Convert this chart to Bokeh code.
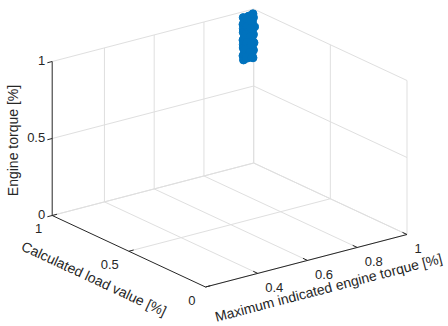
import math
from bokeh.plotting import figure
from bokeh.models import Range1d, ColumnDataSource
from bokeh.embed import file_html
from bokeh.resources import INLINE
from bokeh.core.properties import value

# ---------------- data ----------------
max_indicated_torque = [
    0.958, 0.977, 0.997,
    0.956, 0.975, 0.996,
    0.957, 0.976, 0.995,
    0.955, 0.978, 0.997,
    0.958, 0.974, 0.994,
    0.956, 0.977, 0.996,
    0.957, 0.975, 0.993,
    0.955, 0.976, 0.995,
    0.958, 0.978, 0.994,
    0.956, 0.974, 0.996,
    0.957, 0.977, 0.993,
    0.956, 0.975, 0.994,
    0.966, 0.986, 0.967, 0.985, 0.965, 0.987, 0.966, 0.986, 0.964, 0.985, 0.966, 0.986,
]
calculated_load = [
    1.000, 0.995, 1.000,
    0.990, 1.000, 0.995,
    1.000, 0.990, 1.000,
    0.995, 1.000, 0.990,
    1.000, 0.995, 1.000,
    0.990, 1.000, 0.995,
    1.000, 0.990, 1.000,
    0.995, 1.000, 0.990,
    1.000, 0.995, 1.000,
    0.990, 1.000, 0.995,
    1.000, 0.990, 1.000,
    0.995, 1.000, 0.995,
    1.000, 0.995, 0.990, 1.000, 0.995, 1.000, 0.990, 0.995, 1.000, 1.000, 0.995, 0.990,
]
engine_torque = [
    0.962, 0.966, 0.970,
    0.943, 0.946, 0.949,
    0.918, 0.921, 0.917,
    0.893, 0.895, 0.890,
    0.866, 0.870, 0.868,
    0.841, 0.845, 0.839,
    0.816, 0.818, 0.814,
    0.790, 0.793, 0.788,
    0.765, 0.767, 0.762,
    0.739, 0.742, 0.737,
    0.714, 0.716, 0.711,
    0.690, 0.692, 0.688,
    0.955, 0.930, 0.905, 0.880, 0.853, 0.828, 0.803, 0.777, 0.752, 0.727, 0.702, 0.697,
]

x_ticks = [0.4, 0.6, 0.8, 1.0]
x_tick_labels = ["0.4", "0.6", "0.8", "1"]
y_ticks = [0.0, 0.5, 1.0]
y_tick_labels = ["0", "0.5", "1"]
z_ticks = [0.0, 0.5, 1.0]
z_tick_labels = ["0", "0.5", "1"]
x_limits = [0.19, 1.0]
y_limits = [0.0, 1.0]
z_limits = [0.0, 1.0]
x_title = "Maximum indicated engine torque [%]"
y_title = "Calculated load value [%]"
z_title = "Engine torque [%]"

# ---------------- view / layout ----------------
W, H = 448, 326
ORIGIN = (205.0, 39.5)     # page position of (xmin, ymin, zmin), y measured upward
EX = (201.5, 52.5)         # page vector spanned by the x range
EY = (-153.3, 71.5)        # page vector spanned by the y range
EZ = (0.0, 154.0)          # page vector spanned by the z range
AXIS_COLOR = "#262626"
GRID_COLOR = "#dfdfdf"
FONT = "Liberation Sans"
TICK_LEN = 5.0


def proj(x, y, z):
    u = (x - x_limits[0]) / (x_limits[1] - x_limits[0])
    v = (y - y_limits[0]) / (y_limits[1] - y_limits[0])
    w = (z - z_limits[0]) / (z_limits[1] - z_limits[0])
    return (ORIGIN[0] + u * EX[0] + v * EY[0] + w * EZ[0],
            ORIGIN[1] + u * EX[1] + v * EY[1] + w * EZ[1])


def unit(vec):
    n = math.hypot(vec[0], vec[1])
    return (vec[0] / n, vec[1] / n)


x0, x1 = x_limits
y0, y1 = y_limits
z0, z1 = z_limits

p = figure(width=W, height=H, x_range=Range1d(0, W), y_range=Range1d(0, H),
           output_backend="svg", toolbar_location=None, x_axis_location=None, y_axis_location=None,
           min_border=0)
p.grid.visible = False
p.outline_line_color = None
p.background_fill_color = "white"
p.border_fill_color = "white"

# grid lines on the three back planes
segs = []
for xt in x_ticks:
    segs.append((proj(xt, y0, z0), proj(xt, y1, z0)))
    segs.append((proj(xt, y1, z0), proj(xt, y1, z1)))
for yt in y_ticks:
    segs.append((proj(x0, yt, z0), proj(x1, yt, z0)))
    segs.append((proj(x1, yt, z0), proj(x1, yt, z1)))
for zt in z_ticks:
    segs.append((proj(x0, y1, zt), proj(x1, y1, zt)))
    segs.append((proj(x1, y0, zt), proj(x1, y1, zt)))
p.multi_line(xs=[[a[0], b[0]] for a, b in segs], ys=[[a[1], b[1]] for a, b in segs],
             line_color=GRID_COLOR, line_width=1)

# axis lines
axes = [(proj(x0, y0, z0), proj(x1, y0, z0)),
        (proj(x0, y0, z0), proj(x0, y1, z0)),
        (proj(x0, y1, z0), proj(x0, y1, z1))]
# tick marks
dx = unit(EX)
dy = unit(EY)
for xt in x_ticks:
    a = proj(xt, y0, z0)
    axes.append((a, (a[0] + dy[0] * TICK_LEN, a[1] + dy[1] * TICK_LEN)))
for yt in y_ticks:
    a = proj(x0, yt, z0)
    axes.append((a, (a[0] + dx[0] * TICK_LEN, a[1] + dx[1] * TICK_LEN)))
for zt in z_ticks:
    a = proj(x0, y1, zt)
    axes.append((a, (a[0] - dx[0] * TICK_LEN, a[1] - dx[1] * TICK_LEN)))
p.multi_line(xs=[[a[0], b[0]] for a, b in axes], ys=[[a[1], b[1]] for a, b in axes],
             line_color=AXIS_COLOR, line_width=1)

# data points
pts = [proj(x, y, z) for x, y, z in zip(max_indicated_torque, calculated_load, engine_torque)]
src = ColumnDataSource(dict(px=[q[0] for q in pts], py=[q[1] for q in pts]))
p.scatter("px", "py", source=src, marker="circle", size=8,
          fill_color="#0072BD", line_color="#0072BD", line_width=1)


# tick labels
def tick_text(points, labels, off, align):
    s = ColumnDataSource(dict(tx=[q[0] + off[0] for q in points], ty=[q[1] + off[1] for q in points], t=labels))
    p.text("tx", "ty", text="t", source=s, text_font=value(FONT), text_font_size="13px",
           text_color=AXIS_COLOR, text_align=align, text_baseline="middle")


tick_text([proj(xt, y0, z0) for xt in x_ticks], x_tick_labels, (7.5, -14.2), "left")
tick_text([proj(x0, yt, z0) for yt in y_ticks], y_tick_labels, (-10.0, -13.3), "right")
tick_text([proj(x0, y1, zt) for zt in z_ticks], z_tick_labels, (-7.0, 1.0), "right")


# axis titles
def title(x, y, txt, ang):
    s = ColumnDataSource(dict(tx=[x], ty=[y], t=[txt]))
    p.text("tx", "ty", text="t", source=s, text_font=value(FONT), text_font_size="14px",
           text_color=AXIS_COLOR, text_align="center", text_baseline="middle", angle=ang)


title(12.5, H - 140, z_title, math.pi / 2)
title(93.5, H - 278, y_title, -math.atan2(EY[1], -EY[0]))
title(328.0, H - 287, x_title, math.atan2(EX[1], EX[0]))

open("out.html", "w").write(file_html(p, INLINE))
